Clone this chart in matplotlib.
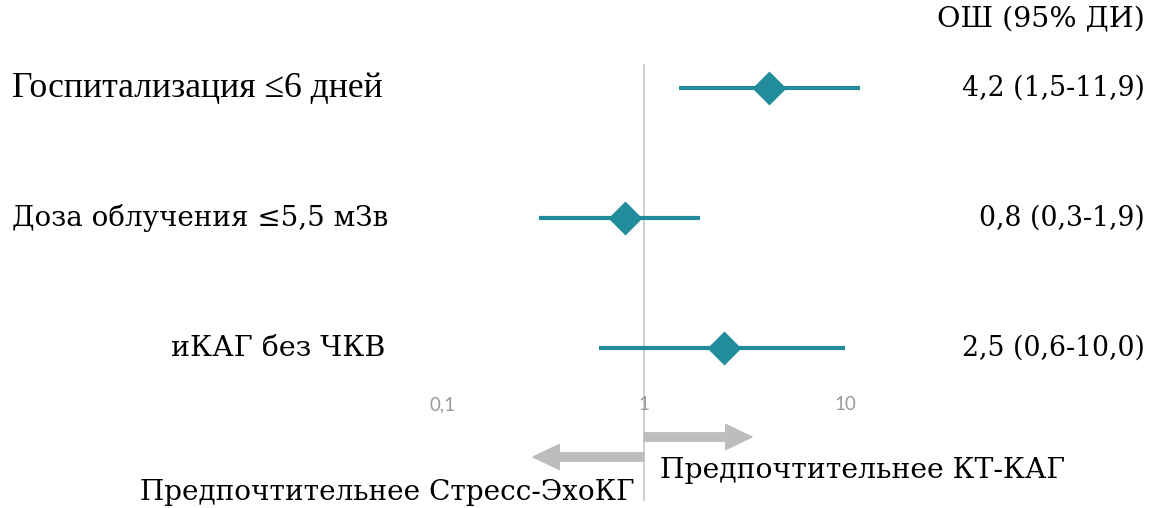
import numpy as np
import matplotlib
matplotlib.use("Agg")
import matplotlib.pyplot as plt

# Odds ratios with 95% confidence intervals
outcomes = ["Госпитализация ≤6 дней", "Доза облучения ≤5,5 мЗв", "иКАГ без ЧКВ"]
odds_ratio = [4.2, 0.8, 2.5]
ci_low = [1.5, 0.3, 0.6]
ci_high = [11.9, 1.9, 10.0]
value_labels = ["4,2 (1,5-11,9)", "0,8 (0,3-1,9)", "2,5 (0,6-10,0)"]
tick_values = [0.1, 1, 10]
tick_labels = ["0,1", "1", "10"]

W, H = 1156, 508
fig = plt.figure(figsize=(W / 100, H / 100), dpi=100)

teal = "#238c9c"
grey_arrow = "#bdbdbd"
serif_a = "Liberation Serif"
serif_b = "DejaVu Serif"

# Data axes: log-scaled x, rows as categories
x0_log, dec_px = 644.0, 201.0
ax = fig.add_axes([0, (H - 385) / H, 1, (385 - 60) / H])
ax.set_xscale("log")
ax.set_xlim(10 ** (-x0_log / dec_px), 10 ** ((W - x0_log) / dec_px))
row_px = [88, 218, 348]
step = 130.0
ax.set_ylim((385 - row_px[0]) / step, (60 - row_px[0]) / step)
rows = np.arange(len(outcomes))

for sp in ax.spines.values():
    sp.set_visible(False)
ax.patch.set_alpha(0)
ax.set_yticks([])
ax.set_xticks(tick_values)
ax.set_xticklabels(tick_labels)
ax.xaxis.set_minor_locator(matplotlib.ticker.NullLocator())
ax.tick_params(axis="x", length=0, pad=8, labelsize=13.5, labelcolor="#9a9a9a")
for lbl in ax.get_xticklabels():
    lbl.set_fontfamily("Lato")

# Reference line at OR = 1
ax.plot([1, 1], [(65 - row_px[0]) / step, (500 - row_px[0]) / step],
        color="#cccccc", lw=1.3, clip_on=False, zorder=1)

# Confidence intervals and point estimates
ax.hlines(rows, ci_low, ci_high, color=teal, lw=3.0, zorder=2)
ax.scatter(odds_ratio, rows, marker="D", s=300, color=teal, zorder=3, linewidths=0)

# Direction arrows
y_r = (437 - row_px[0]) / step
y_l = (457 - row_px[0]) / step
arrow_kw = dict(arrowstyle="simple,head_length=2.2,head_width=2.1,tail_width=0.7",
                color=grey_arrow, shrinkA=0, shrinkB=0, mutation_scale=8.6)
ax.annotate("", xy=(10 ** ((752 - x0_log) / dec_px), y_r), xytext=(1, y_r),
            arrowprops=arrow_kw, annotation_clip=False)
ax.annotate("", xy=(10 ** ((533 - x0_log) / dec_px), y_l), xytext=(1, y_l),
            arrowprops=arrow_kw, annotation_clip=False)

# Text overlay in pixel coordinates
tx = fig.add_axes([0, 0, 1, 1])
tx.set_xlim(0, W)
tx.set_ylim(H, 0)
tx.axis("off")
tx.patch.set_alpha(0)

tx.text(12, row_px[0], outcomes[0], fontfamily=serif_a, fontsize=25.7,
        ha="left", va="center")
tx.text(388, row_px[1], outcomes[1], fontfamily=serif_b, fontsize=20,
        ha="right", va="center")
tx.text(385, row_px[2], outcomes[2], fontfamily=serif_b, fontsize=20.5,
        ha="right", va="center")

tx.text(1145, 20, "ОШ (95% ДИ)", fontfamily=serif_b, fontsize=20.5,
        ha="right", va="center")
for y, lab in zip(row_px, value_labels):
    tx.text(1145, y, lab, fontfamily=serif_b, fontsize=19.3, ha="right", va="center")

tx.text(660, 470, "Предпочтительнее КТ-КАГ", fontfamily=serif_b, fontsize=20.3,
        ha="left", va="center")
tx.text(635, 492, "Предпочтительнее Стресс-ЭхоКГ", fontfamily=serif_b, fontsize=20.1,
        ha="right", va="center")

fig.savefig("out.png", dpi=100, facecolor="white")
